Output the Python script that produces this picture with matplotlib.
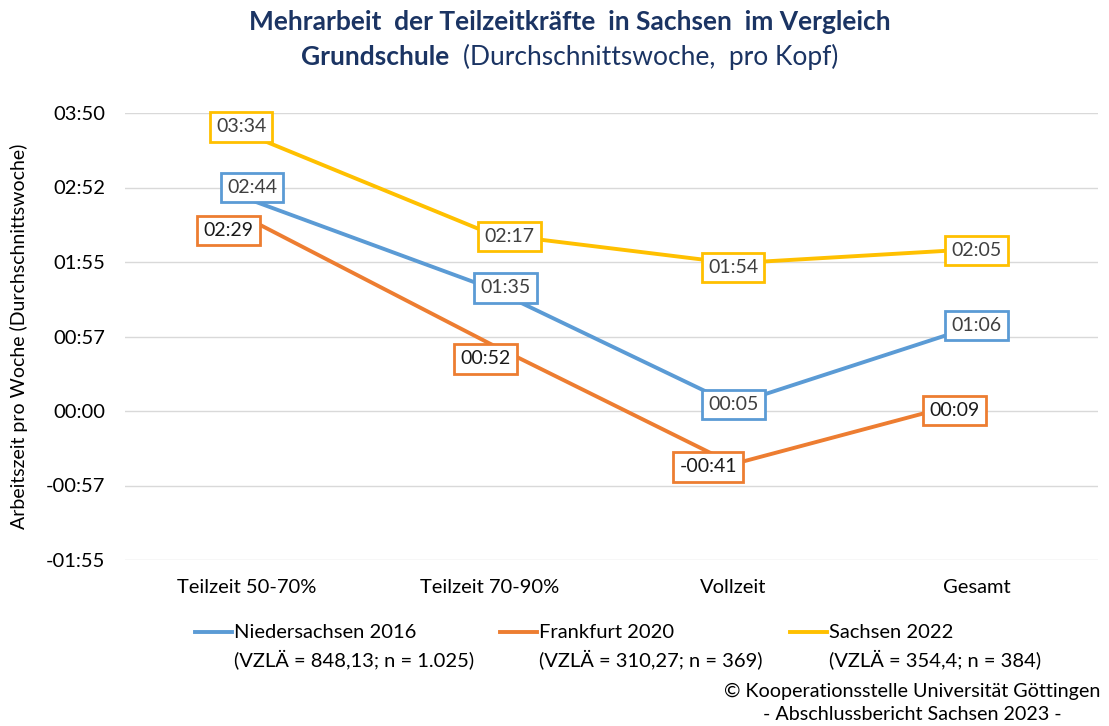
import matplotlib.pyplot as plt
from matplotlib.lines import Line2D
from matplotlib.ticker import FixedLocator, FuncFormatter

plt.rcParams['font.family'] = ['Lato', 'DejaVu Sans']

categories = ['Teilzeit 50-70%', 'Teilzeit 70-90%', 'Vollzeit', 'Gesamt']
# Minuten pro Woche
niedersachsen = [164, 95, 5, 66]
frankfurt = [149, 52, -41, 9]
sachsen = [214, 137, 114, 125]
series_names = ['Niedersachsen 2016', 'Frankfurt 2020', 'Sachsen 2022']
series_notes = ['(VZLÄ = 848,13; n = 1.025)', '(VZLÄ = 310,27; n = 369)', '(VZLÄ = 354,4; n = 384)']
y_ticks = [-115, -57.5, 0, 57.5, 115, 172.5, 230]

colors = ['#5B9BD5', '#ED7D31', '#FFC000']
label_colors = ['#404040', '#1a1a1a', '#404040']
# Versatz der Wertebeschriftungen (Punkte)
offsets = [
    [(4, 8), (11, 0), (0, 0), (0, 0)],
    [(-13, -9), (-3, -11), (-18, -2), (-16, -8)],
    [(-4, 5), (14, -2), (0, -3), (0, -1)],
]

fig = plt.figure(figsize=(11.09, 7.26), dpi=100)
ax = fig.add_axes([125 / 1109, 166 / 726, 973 / 1109, 447 / 726])

x = range(len(categories))
for vals, col, lcol, offs in zip([niedersachsen, frankfurt, sachsen], colors, label_colors, offsets):
    ax.plot(x, vals, color=col, lw=2.8, solid_capstyle='round', zorder=3)
    for xi, v, off in zip(x, vals, offs):
        sign = '-' if v < 0 else ''
        txt = f'{sign}{abs(v) // 60:02d}:{abs(v) % 60:02d}'
        ax.annotate(txt, (xi, v), xytext=off, textcoords='offset points',
                    ha='center', va='center', fontsize=14, color=lcol,
                    bbox=dict(boxstyle='square,pad=0.32', fc='white', ec=col, lw=2),
                    zorder=5)

ax.set_xlim(-0.5, 3.5)
ax.set_ylim(-115, 230)
ax.yaxis.set_major_locator(FixedLocator(y_ticks))


def fmt(v, pos):
    m = int(abs(v))
    s = '-' if v < 0 else ''
    return f'{s}{m // 60:02d}:{m % 60:02d}'


ax.yaxis.set_major_formatter(FuncFormatter(fmt))
ax.set_xticks(list(x))
ax.set_xticklabels(categories)
ax.grid(axis='y', color='#D9D9D9', lw=1)
ax.set_axisbelow(True)
for s in ax.spines.values():
    s.set_visible(False)
ax.tick_params(axis='both', length=0, labelsize=14.5, colors='black')
ax.tick_params(axis='y', pad=14)
ax.tick_params(axis='x', pad=14)
ax.set_ylabel('Arbeitszeit pro Woche (Durchschnittswoche)', fontsize=14)
ax.yaxis.set_label_coords(-0.1, 0.5)

# Titel
navy = '#1B3463'
fig.text(570 / 1109, 1 - 22 / 726, 'Mehrarbeit  der Teilzeitkräfte  in Sachsen  im Vergleich',
         ha='center', va='center', fontsize=19, fontweight='bold', color=navy)
fig.text(449 / 1109, 1 - 57 / 726, 'Grundschule',
         ha='right', va='center', fontsize=19, fontweight='bold', color=navy)
fig.text(463 / 1109, 1 - 57 / 726, '(Durchschnittswoche,  pro Kopf)',
         ha='left', va='center', fontsize=19, color=navy)

# Legende
leg_x = [195, 500, 790]
for lx, name, note, col in zip(leg_x, series_names, series_notes, colors):
    fig.add_artist(Line2D([lx / 1109, (lx + 37) / 1109], [1 - 632 / 726] * 2,
                          color=col, lw=2.8, transform=fig.transFigure))
    fig.text((lx + 39) / 1109, 1 - 632 / 726, name, ha='left', va='center', fontsize=14.5)
    fig.text((lx + 39) / 1109, 1 - 659 / 726, note, ha='left', va='center', fontsize=14.5)

fig.text(912 / 1109, 1 - 691 / 726, '© Kooperationsstelle Universität Göttingen',
         ha='center', va='center', fontsize=14.2)
fig.text(912 / 1109, 1 - 715 / 726, '- Abschlussbericht Sachsen 2023 -',
         ha='center', va='center', fontsize=14.2)

fig.savefig('out.png', dpi=100)
